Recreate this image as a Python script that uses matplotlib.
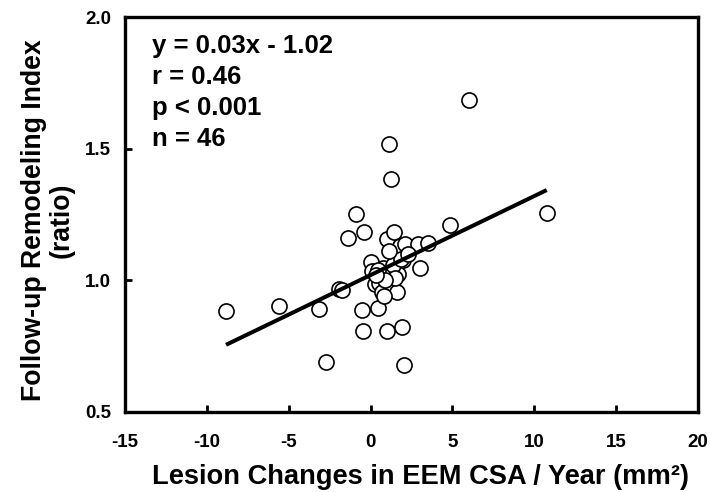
import matplotlib
matplotlib.use("Agg")
import matplotlib.pyplot as plt
import numpy as np

# Lesion change in EEM CSA per year (mm^2) and follow-up remodeling index
eem_change = [
    -8.83, -5.57, -3.12, -2.72, -1.95, -1.75, -1.36, -0.91, -0.40, -0.55,
    -0.44, 0.03, 0.11, 0.27, 0.53, 0.68, 0.47, 0.78, 1.02, 1.02,
    1.13, 1.23, 1.23, 1.45, 1.60, 1.70, 1.80, 1.90, 2.04, 2.00,
    2.10, 2.92, 3.02, 3.49, 4.83, 6.03, 10.76,
    0.45, 1.35, 1.50, 0.90, 1.85, 0.35, 1.10, 2.30, 0.85,
]
remodeling_index = [
    0.884, 0.904, 0.890, 0.689, 0.966, 0.962, 1.161, 1.252, 1.185, 0.888,
    0.809, 1.068, 1.037, 0.986, 0.989, 0.955, 0.894, 1.046, 1.157, 0.808,
    1.517, 1.386, 0.989, 1.184, 0.957, 1.024, 1.130, 0.824, 0.679, 1.077,
    1.138, 1.137, 1.048, 1.143, 1.211, 1.685, 1.255,
    1.040, 1.060, 1.010, 1.000, 1.080, 1.020, 1.110, 1.100, 0.940,
]

slope = 0.03
intercept = 1.02
stats_lines = ["y = 0.03x - 1.02", "r = 0.46", "p < 0.001", "n = 46"]

x_ticks = [-15, -10, -5, 0, 5, 10, 15, 20]
y_ticks = [0.5, 1.0, 1.5, 2.0]

plt.rcParams["font.family"] = ["Liberation Sans", "DejaVu Sans"]
plt.rcParams["font.weight"] = "bold"

W, H = 711, 492
fig = plt.figure(figsize=(W / 100, H / 100), dpi=100)
ax = fig.add_axes([125 / W, 1 - 412 / H, 573 / W, 395 / H])

ax.scatter(eem_change, remodeling_index, s=118, facecolor="white",
           edgecolor="black", linewidth=1.2, zorder=3)

xs = np.array([min(eem_change), max(eem_change)])
ax.plot(xs, slope * xs + intercept, color="black", linewidth=2.9,
        solid_capstyle="butt", zorder=4)

ax.set_xlim(-15, 20)
ax.set_ylim(0.5, 2.0)
ax.set_xticks(x_ticks)
ax.set_yticks(y_ticks)
ax.set_xticklabels([str(t) for t in x_ticks])
ax.set_yticklabels([f"{t:.1f}" for t in y_ticks])

for sp in ax.spines.values():
    sp.set_linewidth(2.4)

ax.tick_params(direction="in", length=5, width=2, labelsize=13.5)
ax.tick_params(axis="x", pad=16)
ax.tick_params(axis="y", pad=10)

# axis titles placed in figure pixels
fig.text(421 / W, 1 - 477 / H, "Lesion Changes in EEM CSA / Year (mm²)",
         fontsize=19.6, fontweight="bold", ha="center", va="center")
fig.text(48 / W, 1 - 220 / H, "Follow-up Remodeling Index\n(ratio)",
         fontsize=19.2, fontweight="bold", ha="center", va="center",
         rotation=90, linespacing=1.05, multialignment="center")

for i, line in enumerate(stats_lines):
    ax.text(0.047, 0.927 - i * 0.079, line, transform=ax.transAxes,
            fontsize=18.5, fontweight="bold", va="center", ha="left")

fig.savefig("out.png", dpi=100)
